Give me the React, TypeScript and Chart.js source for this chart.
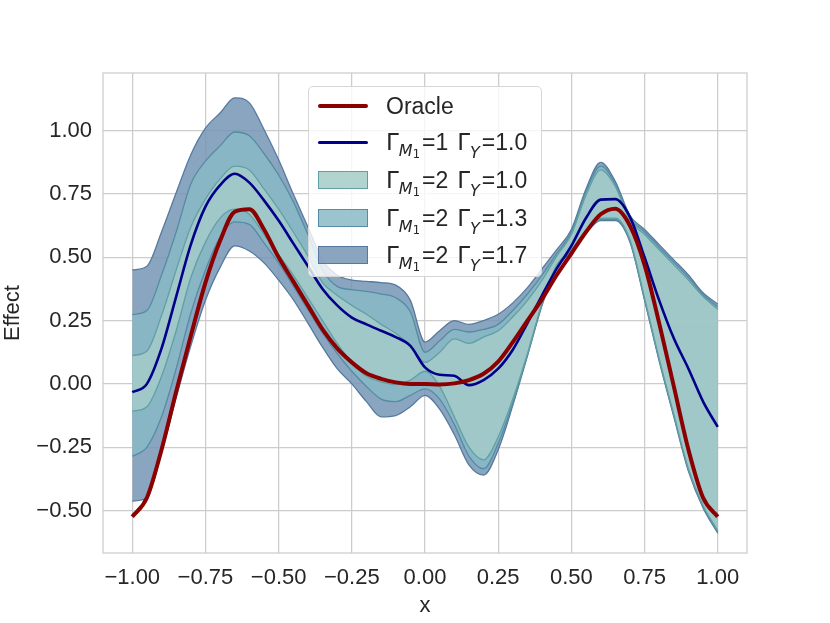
import { useEffect, useRef } from "react"
import { Chart, registerables } from "chart.js"

Chart.register(...registerables)

// shared x grid
const xs = [
  -1.0, -0.95, -0.9, -0.85, -0.8, -0.75, -0.7, -0.65, -0.6, -0.55, -0.5, -0.45, -0.4, -0.35,
  -0.3, -0.25, -0.2, -0.15, -0.1, -0.05, 0.0, 0.05, 0.1, 0.15, 0.2, 0.25, 0.3, 0.35, 0.4,
  0.45, 0.5, 0.55, 0.6, 0.65, 0.7, 0.75, 0.8, 0.85, 0.9, 0.95, 1.0,
]

const oracle = [
  -0.525, -0.45, -0.26, -0.03, 0.19, 0.4, 0.565, 0.68, 0.69, 0.61, 0.5, 0.405, 0.31, 0.215,
  0.14, 0.085, 0.042, 0.02, 0.006, 0.0, 0.0, -0.002, 0.002, 0.015, 0.04, 0.088, 0.165, 0.25,
  0.335, 0.43, 0.515, 0.6, 0.67, 0.692, 0.625, 0.47, 0.24, -0.01, -0.26, -0.45, -0.525,
]

// Γ_M1=1 Γ_Y=1.0
const gammaM1 = [
  -0.033, 0.0, 0.14, 0.345, 0.55, 0.7, 0.785, 0.83, 0.795, 0.725, 0.645, 0.555, 0.465, 0.375,
  0.31, 0.262, 0.235, 0.21, 0.185, 0.15, 0.065, 0.036, 0.032, -0.005, 0.015, 0.06, 0.135, 0.24,
  0.35, 0.455, 0.545, 0.655, 0.728, 0.73, 0.66, 0.5, 0.33, 0.18, 0.06, -0.07, -0.17,
]

// Γ_M1=2 bands, Γ_Y = 1.0 / 1.3 / 1.7
const low10 = [
  -0.108, -0.09, 0.03, 0.21, 0.42, 0.56, 0.655, 0.69, 0.67, 0.59, 0.51, 0.43, 0.34, 0.25,
  0.16, 0.085, 0.03, 0.008, -0.003, 0.015, 0.05, -0.01, -0.13, -0.25, -0.3, -0.21, -0.06, 0.12,
  0.32, 0.47, 0.53, 0.605, 0.655, 0.655, 0.57, 0.34, 0.1, -0.12, -0.335, -0.48, -0.58,
]
const high10 = [
  0.112, 0.13, 0.27, 0.45, 0.62, 0.73, 0.81, 0.86, 0.845, 0.77, 0.69, 0.6, 0.505, 0.4,
  0.35, 0.31, 0.275, 0.235, 0.2, 0.15, 0.085, 0.125, 0.178, 0.16, 0.185, 0.21, 0.265, 0.33,
  0.41, 0.505, 0.59, 0.745, 0.845, 0.78, 0.645, 0.59, 0.53, 0.47, 0.41, 0.345, 0.295,
]
const low13 = [
  -0.286, -0.25, -0.13, 0.06, 0.28, 0.45, 0.58, 0.64, 0.63, 0.557, 0.478, 0.386, 0.293, 0.2,
  0.12, 0.05, -0.01, -0.06, -0.07, -0.045, -0.02, -0.06, -0.16, -0.285, -0.335, -0.235, -0.075, 0.115,
  0.315, 0.465, 0.525, 0.6, 0.65, 0.65, 0.565, 0.335, 0.095, -0.125, -0.34, -0.485, -0.585,
]
const high13 = [
  0.274, 0.29, 0.43, 0.6, 0.79, 0.88, 0.94, 0.995, 0.98, 0.91, 0.825, 0.72, 0.59, 0.45,
  0.385, 0.372, 0.365, 0.355, 0.34, 0.285, 0.125, 0.17, 0.215, 0.205, 0.215, 0.235, 0.29, 0.355,
  0.43, 0.515, 0.6, 0.76, 0.86, 0.79, 0.655, 0.6, 0.54, 0.48, 0.42, 0.352, 0.305,
]
const low17 = [
  -0.463, -0.45, -0.27, -0.055, 0.15, 0.33, 0.46, 0.545, 0.525, 0.478, 0.41, 0.333, 0.24, 0.145,
  0.06, 0.0, -0.07, -0.13, -0.125, -0.09, -0.045, -0.1, -0.2, -0.32, -0.36, -0.26, -0.085, 0.11,
  0.31, 0.46, 0.52, 0.595, 0.645, 0.645, 0.56, 0.33, 0.09, -0.13, -0.345, -0.49, -0.59,
]
const high17 = [
  0.45, 0.465, 0.6, 0.755, 0.905, 1.01, 1.07, 1.13, 1.11, 1.005, 0.885, 0.75, 0.62, 0.49,
  0.43, 0.41, 0.405, 0.4, 0.39, 0.33, 0.165, 0.21, 0.25, 0.235, 0.25, 0.275, 0.32, 0.38,
  0.455, 0.53, 0.61, 0.77, 0.875, 0.8, 0.665, 0.61, 0.55, 0.49, 0.43, 0.36, 0.315,
]

const xTicks = [-1, -0.75, -0.5, -0.25, 0, 0.25, 0.5, 0.75, 1]
const xTickLabels = ["−1.00", "−0.75", "−0.50", "−0.25", "0.00", "0.25", "0.50", "0.75", "1.00"]
const yTicks = [-0.5, -0.25, 0, 0.25, 0.5, 0.75, 1]
const yTickLabels = ["−0.50", "−0.25", "0.00", "0.25", "0.50", "0.75", "1.00"]

const FONT = "'Liberation Sans', Arial, sans-serif"
const MATH = "'DejaVu Sans', sans-serif"
const TEXT = "#262626"
const GRID = "#cccccc"

const fill10 = "rgba(164, 205, 201, 0.85)"
const fill13 = "rgba(138, 186, 197, 0.85)"
const fill17 = "rgba(117, 149, 181, 0.85)"
const edge10 = "rgb(96, 160, 164)"
const edge13 = "rgb(84, 140, 164)"
const edge17 = "rgb(86, 122, 158)"

const pts = (ys: number[]) => xs.map((x, i) => ({ x, y: ys[i] }))

// light grey box round the plot area
const framePlugin = {
  id: "frame",
  afterDraw(chart: Chart) {
    const { ctx, chartArea } = chart
    ctx.save()
    ctx.strokeStyle = GRID
    ctx.lineWidth = 1.25
    ctx.strokeRect(chartArea.left, chartArea.top, chartArea.right - chartArea.left, chartArea.bottom - chartArea.top)
    ctx.restore()
  },
}

function Shift({ dy, size, italic, children }: { dy: number; size: number; italic?: boolean; children: any }) {
  return (
    <span
      style={{
        position: "relative",
        top: dy,
        fontSize: size,
        fontFamily: MATH,
        fontStyle: italic ? "italic" : "normal",
      }}
    >
      {children}
    </span>
  )
}

function GammaLabel({ m, y }: { m: string; y: string }) {
  return (
    <span>
      <span style={{ fontFamily: MATH }}>Γ</span>
      <Shift dy={6} size={16} italic>
        M
      </Shift>
      <Shift dy={8} size={11.5}>
        1
      </Shift>
      <span style={{ marginLeft: 2 }}>={m}</span>
      <span style={{ marginLeft: 9, fontFamily: MATH }}>Γ</span>
      <Shift dy={8} size={16} italic>
        Y
      </Shift>
      <span style={{ marginLeft: 2 }}>={y}</span>
    </span>
  )
}

const legendRows = [
  { kind: "line", color: "#8b0000", width: 4, label: <span>Oracle</span> },
  { kind: "line", color: "#00008b", width: 3, label: <GammaLabel m="1" y="1.0" /> },
  { kind: "patch", color: fill10, edge: edge10, label: <GammaLabel m="2" y="1.0" /> },
  { kind: "patch", color: fill13, edge: edge13, label: <GammaLabel m="2" y="1.3" /> },
  { kind: "patch", color: fill17, edge: edge17, label: <GammaLabel m="2" y="1.7" /> },
]
const legendRowCenters = [19, 55, 93, 131, 168]

export default function App() {
  const chartRef = useRef<HTMLCanvasElement>(null)
  const chartInstance = useRef<Chart | null>(null)

  useEffect(() => {
    if (!chartRef.current) return
    const ctx = chartRef.current.getContext("2d")
    if (!ctx) return
    if (chartInstance.current) chartInstance.current.destroy()

    const line = (data: number[], color: string, width: number, order: number, fill: any = false) => ({
      data: pts(data),
      borderColor: color,
      borderWidth: width,
      backgroundColor: fill ? fill.color : color,
      fill: fill ? fill.target : false,
      pointRadius: 0,
      cubicInterpolationMode: "monotone" as const,
      order,
    })

    chartInstance.current = new Chart(ctx, {
      type: "line",
      data: {
        datasets: [
          { label: "Oracle", ...line(oracle, "#8b0000", 4, 0) },
          { label: "ΓM1=1 ΓY=1.0", ...line(gammaM1, "#00008b", 2.6, 1) },
          { label: "low 1.0", ...line(low10, edge10, 1.3, 2) },
          { label: "ΓM1=2 ΓY=1.0", ...line(high10, edge10, 1.3, 3, { target: "-1", color: fill10 }) },
          { label: "low 1.3", ...line(low13, edge13, 1.3, 4) },
          { label: "ΓM1=2 ΓY=1.3", ...line(high13, edge13, 1.3, 5, { target: "-1", color: fill13 }) },
          { label: "low 1.7", ...line(low17, edge17, 1.3, 6) },
          { label: "ΓM1=2 ΓY=1.7", ...line(high17, edge17, 1.3, 7, { target: "-1", color: fill17 }) },
        ],
      },
      options: {
        animation: false,
        responsive: true,
        maintainAspectRatio: false,
        layout: { padding: { top: 73, right: 83, bottom: 0, left: 0 } },
        plugins: {
          legend: { display: false },
          tooltip: { enabled: false },
        },
        scales: {
          x: {
            type: "linear",
            min: -1.1,
            max: 1.1,
            afterBuildTicks: (s: any) => {
              s.ticks = xTicks.map((v) => ({ value: v }))
            },
            afterFit: (s: any) => {
              s.height = 70
            },
            grid: { color: GRID, lineWidth: 1.25, drawTicks: false },
            border: { display: false },
            ticks: {
              padding: 12,
              color: TEXT,
              font: { family: FONT, size: 22 },
              maxRotation: 0,
              autoSkip: false,
              callback: (v: any) => xTickLabels[xTicks.indexOf(Number(v))] ?? "",
            },
            title: {
              display: true,
              text: "x",
              color: TEXT,
              font: { family: FONT, size: 22 },
              padding: { top: 0, bottom: 4 },
            },
          },
          y: {
            type: "linear",
            min: -0.668,
            max: 1.228,
            afterBuildTicks: (s: any) => {
              s.ticks = yTicks.map((v) => ({ value: v }))
            },
            afterFit: (s: any) => {
              s.width = 103
            },
            grid: { color: GRID, lineWidth: 1.25, drawTicks: false },
            border: { display: false },
            ticks: {
              padding: 11,
              color: TEXT,
              font: { family: FONT, size: 22 },
              autoSkip: false,
              callback: (v: any) => yTickLabels[yTicks.indexOf(Number(v))] ?? "",
            },
            title: {
              display: true,
              text: "Effect",
              color: TEXT,
              font: { family: FONT, size: 22 },
              padding: { top: 0, bottom: 0 },
            },
          },
        },
      },
      plugins: [framePlugin],
    })

    return () => {
      if (chartInstance.current) {
        chartInstance.current.destroy()
        chartInstance.current = null
      }
    }
  }, [])

  return (
    <div style={{ position: "absolute", left: 0, top: 0, width: 830, height: 623, background: "#fff" }}>
      <canvas ref={chartRef} />
      <div
        style={{
          position: "absolute",
          left: 308,
          top: 86,
          width: 234,
          height: 191,
          boxSizing: "border-box",
          background: "rgba(255,255,255,0.8)",
          border: "1px solid #d6d6d6",
          borderRadius: 5,
          fontFamily: FONT,
          fontSize: 23,
          color: TEXT,
        }}
      >
        {legendRows.map((r, i) => (
          <div key={i}>
            {r.kind === "line" ? (
              <div
                style={{
                  position: "absolute",
                  left: 9,
                  top: legendRowCenters[i] - r.width! / 2,
                  width: 50,
                  height: r.width,
                  background: r.color,
                  borderRadius: 2,
                }}
              />
            ) : (
              <div
                style={{
                  position: "absolute",
                  left: 9,
                  top: legendRowCenters[i] - 9,
                  width: 50,
                  height: 18,
                  boxSizing: "border-box",
                  background: r.color,
                  border: `1px solid ${r.edge}`,
                }}
              />
            )}
            <div
              style={{
                position: "absolute",
                left: 77,
                top: legendRowCenters[i] - 13,
                lineHeight: "26px",
                whiteSpace: "nowrap",
              }}
            >
              {r.label}
            </div>
          </div>
        ))}
      </div>
    </div>
  )
}
